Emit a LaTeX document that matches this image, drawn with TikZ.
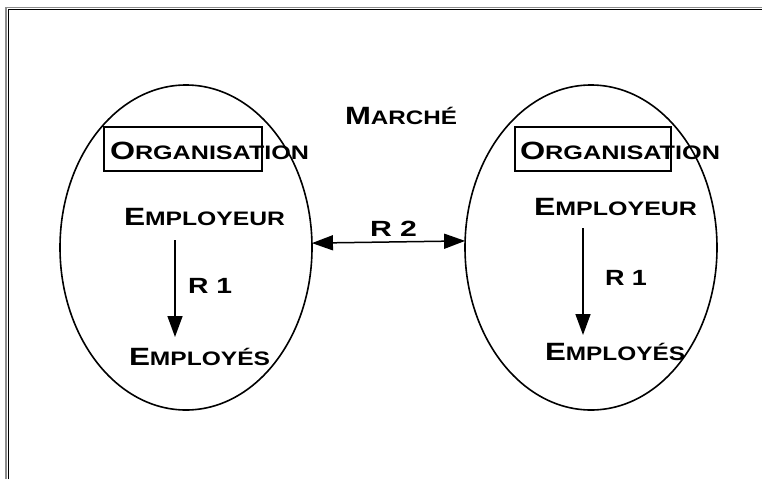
\documentclass[tikz,border=0pt]{standalone}
\usepackage{fontspec}
\setmainfont{Liberation Sans}
\usepackage{graphicx}
\usetikzlibrary{shapes.geometric,arrows.meta}

% wide small-capital lettering: large initial, smaller remainder
\newcommand\cpg[2]{{\bfseries\fontsize{25}{25}\selectfont #1}{\bfseries\fontsize{19.5}{19.5}\selectfont #2}}
\newcommand\plain[1]{{\bfseries\fontsize{22}{22}\selectfont #1}}
% stretch a label horizontally to a given width (in pt), keeping its height
\newcommand\fitto[2]{\resizebox{#1pt}{\height}{#2}}

\begin{document}
\begin{tikzpicture}[x=1pt,y=-1pt,
  lbl/.style={anchor=base west,inner sep=0pt,outer sep=0pt},
  firm/.style={ellipse,draw,line width=1.6pt,minimum width=252pt,minimum height=325pt,inner sep=0pt,outer sep=0pt},
  unitbox/.style={draw,line width=1.4pt},
  rel/.style={line width=1.5pt,-{Triangle[length=21pt,width=15pt]}},
  mutual/.style={line width=1.5pt,{Triangle[length=21pt,width=15pt]}-{Triangle[length=21pt,width=15pt]}}]
\useasboundingbox (0,0) rectangle (762,479);

% page frame (top and left rules)
\draw[line width=1.2pt,black!45] (6,479) -- (6,7.5) -- (762,7.5);
\draw[line width=1.6pt] (8.5,479) -- (8.5,9.5) -- (762,9.5);

% the two organisations
\node[firm] (firmL) at (186,247.5) {};
\node[firm] (firmR) at (591,247.5) {};

% market label and the relation between organisations
\node[lbl] (mkt) at (345,124) {\fitto{112}{\cpg{M}{ARCHÉ}}};
\node[lbl] (r2) at (370,236) {\fitto{47}{\plain{R 2}}};
\draw[mutual] (firmL.2.5) -- (firmR.177.5);

% left organisation
\draw[unitbox] (104,127) rectangle (262,171);
\node[lbl] (orgL) at (110,159) {\fitto{199}{\cpg{O}{RGANISATION}}};
\node[lbl] (empL) at (124,225) {\fitto{161}{\cpg{E}{MPLOYEUR}}};
\node[lbl] (wrkL) at (129,365) {\fitto{141}{\cpg{E}{MPLOYÉS}}};
\node[lbl] (r1L) at (188,293) {\fitto{44}{\plain{R 1}}};
\coordinate (aL1) at (175,240);
\coordinate (aL2) at (175,337);
\draw[rel] (aL1) -- (aL2);

% right organisation
\draw[unitbox] (515,127) rectangle (671,171);
\node[lbl] (orgR) at (520,159) {\fitto{200}{\cpg{O}{RGANISATION}}};
\node[lbl] (empR) at (534,215) {\fitto{163}{\cpg{E}{MPLOYEUR}}};
\node[lbl] (wrkR) at (545,360) {\fitto{140}{\cpg{E}{MPLOYÉS}}};
\node[lbl] (r1R) at (605,285) {\fitto{42}{\plain{R 1}}};
\coordinate (aR1) at (583,228);
\coordinate (aR2) at (583,335);
\draw[rel] (aR1) -- (aR2);
\end{tikzpicture}
\end{document}
